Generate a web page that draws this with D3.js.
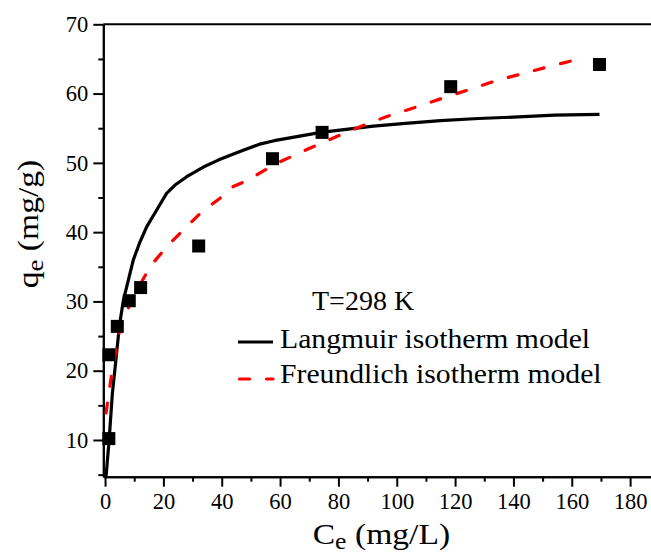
<!DOCTYPE html>
<html>
<head>
<meta charset="utf-8">
<script src="https://cdn.jsdelivr.net/npm/d3@7"></script>
<style>
  body { margin: 0; background: #fff; }
  svg text { font-family: 'Liberation Serif'; }
</style>
</head>
<body>
<script>
var width = 651;
var height = 556;

// experimental points
var ceData = [1.3, 1.3, 4.2, 8.3, 12.2, 32.1, 57.4, 74.4, 118.5, 169.5];
var qeData = [10.2, 22.3, 26.4, 30.1, 32.0, 38.0, 50.6, 54.4, 61.0, 64.2];

// fitted curves
var langmuirC = [0.34, 1.4, 2.5, 3.7, 4.9, 6.3, 8.3, 9.7, 11.8, 14.3, 17.7, 21.1, 24, 28, 33.7, 38.8, 46, 53, 58, 74, 92, 103, 115, 128, 140, 154, 169.5];
var langmuirQ = [4.7, 10, 16.7, 21.5, 26.4, 30.2, 33.6, 36, 38.4, 40.8, 43.2, 45.6, 46.8, 48, 49.4, 50.4, 51.6, 52.7, 53.2, 54.4, 55.3, 55.7, 56.1, 56.4, 56.6, 56.9, 57.0];

var freundC = [0.34, 2.3, 5.1, 9.1, 15.4, 21.1, 28, 32.6, 39.4, 44, 49, 57.7, 69, 79.4, 87.4, 96.6, 107, 114.8, 125, 134.3, 143.4, 153, 161.7, 165];
var freundQ = [13.9, 19.6, 26.0, 30.2, 35, 37.9, 40.8, 42.7, 44.9, 46.6, 47.5, 49.7, 51.9, 53.8, 55.2, 56.7, 58.1, 59.2, 60.6, 61.9, 62.9, 64.0, 64.9, 65.2];

var xMajor = [0, 20, 40, 60, 80, 100, 120, 140, 160, 180];
var xMinor = [10, 30, 50, 70, 90, 110, 130, 150, 170];
var yMajor = [10, 20, 30, 40, 50, 60, 70];
var yMinor = [5, 15, 25, 35, 45, 55, 65];

var serif = 'Liberation Serif';

var x = d3.scaleLinear().domain([-0.6, 188]).range([103.3, 103.3 + 188.6 * 2.917]);
var y = d3.scaleLinear().domain([4.7, 70]).range([476.7, 24.3]);

var svg = d3.select('body').append('svg')
    .attr('width', width)
    .attr('height', height)
    .attr('font-family', serif);

function styleAxis(g) {
  g.attr('font-family', serif);
  g.select('.domain').attr('stroke', '#000').attr('stroke-width', 2);
  g.selectAll('.tick line').attr('stroke', '#000').attr('stroke-width', 2);
  g.selectAll('.tick text')
      .attr('fill', '#000')
      .attr('font-family', serif)
      .attr('font-size', 22.5);
}

// minor ticks first, majors on top
svg.append('g')
    .attr('transform', 'translate(0,' + y.range()[0] + ')')
    .call(d3.axisBottom(x).tickValues(xMinor).tickSize(5).tickSizeOuter(0).tickFormat(''))
    .call(styleAxis);
svg.append('g')
    .attr('transform', 'translate(0,' + y.range()[0] + ')')
    .call(d3.axisBottom(x).tickValues(xMajor).tickSize(10).tickSizeOuter(0).tickPadding(6.5))
    .call(styleAxis);

svg.append('g')
    .attr('transform', 'translate(' + x.range()[0] + ',0)')
    .call(d3.axisLeft(y).tickValues(yMinor).tickSize(5).tickSizeOuter(0).tickFormat(''))
    .call(styleAxis);
svg.append('g')
    .attr('transform', 'translate(' + x.range()[0] + ',0)')
    .call(d3.axisLeft(y).tickValues(yMajor).tickSize(10).tickSizeOuter(0).tickPadding(5))
    .call(styleAxis);

// top frame
svg.append('line')
    .attr('x1', x.range()[0]).attr('x2', x.range()[1])
    .attr('y1', y(70)).attr('y2', y(70))
    .attr('stroke', '#000').attr('stroke-width', 2);

var line = d3.line()
    .x(function(d) { return x(d[0]); })
    .y(function(d) { return y(d[1]); });

svg.append('path')
    .datum(d3.zip(langmuirC, langmuirQ))
    .attr('d', line)
    .attr('fill', 'none')
    .attr('stroke', '#000')
    .attr('stroke-width', 3.2)
    .attr('stroke-linejoin', 'round');

svg.append('path')
    .datum(d3.zip(freundC, freundQ))
    .attr('d', line)
    .attr('fill', 'none')
    .attr('stroke', '#ff0000')
    .attr('stroke-width', 3.2)
    .attr('stroke-linecap', 'round')
    .attr('stroke-dasharray', '10,17');

var sq = 13;
svg.selectAll('rect.pt')
    .data(d3.zip(ceData, qeData))
  .enter().append('rect')
    .attr('class', 'pt')
    .attr('x', function(d) { return x(d[0]) - sq / 2; })
    .attr('y', function(d) { return y(d[1]) - sq / 2; })
    .attr('width', sq)
    .attr('height', sq)
    .attr('fill', '#000');

// legend
svg.append('text')
    .attr('x', 312).attr('y', 310)
    .attr('font-size', 28)
    .text('T=298 K');

svg.append('line')
    .attr('x1', 238).attr('x2', 273).attr('y1', 342).attr('y2', 342)
    .attr('stroke', '#000').attr('stroke-width', 3.2);
svg.append('text')
    .attr('transform', 'translate(280,348.3) scale(1.1,1)')
    .attr('font-size', 27)
    .text('Langmuir isotherm model');

svg.append('line')
    .attr('x1', 239.5).attr('x2', 273).attr('y1', 379).attr('y2', 379)
    .attr('stroke', '#ff0000').attr('stroke-width', 3.2)
    .attr('stroke-linecap', 'round')
    .attr('stroke-dasharray', '10,17');
svg.append('text')
    .attr('transform', 'translate(280,383.3) scale(1.1,1)')
    .attr('font-size', 27)
    .text('Freundlich isotherm model');

// axis titles
var xt = svg.append('text')
    .attr('transform', 'translate(312.7,544) scale(1.12,1)')
    .attr('font-size', 30);
xt.append('tspan').text('C');
xt.append('tspan').attr('font-size', 23).attr('dy', 5).text('e');
xt.append('tspan').attr('dy', -5).text(' (mg/L)');

var yt = svg.append('text')
    .attr('transform', 'translate(38,224) rotate(-90) scale(1.12,1)')
    .attr('text-anchor', 'middle')
    .attr('font-size', 30);
yt.append('tspan').text('q');
yt.append('tspan').attr('font-size', 24).attr('dy', 5).text('e');
yt.append('tspan').attr('dy', -5).text(' (mg/g)');
</script>
</body>
</html>
